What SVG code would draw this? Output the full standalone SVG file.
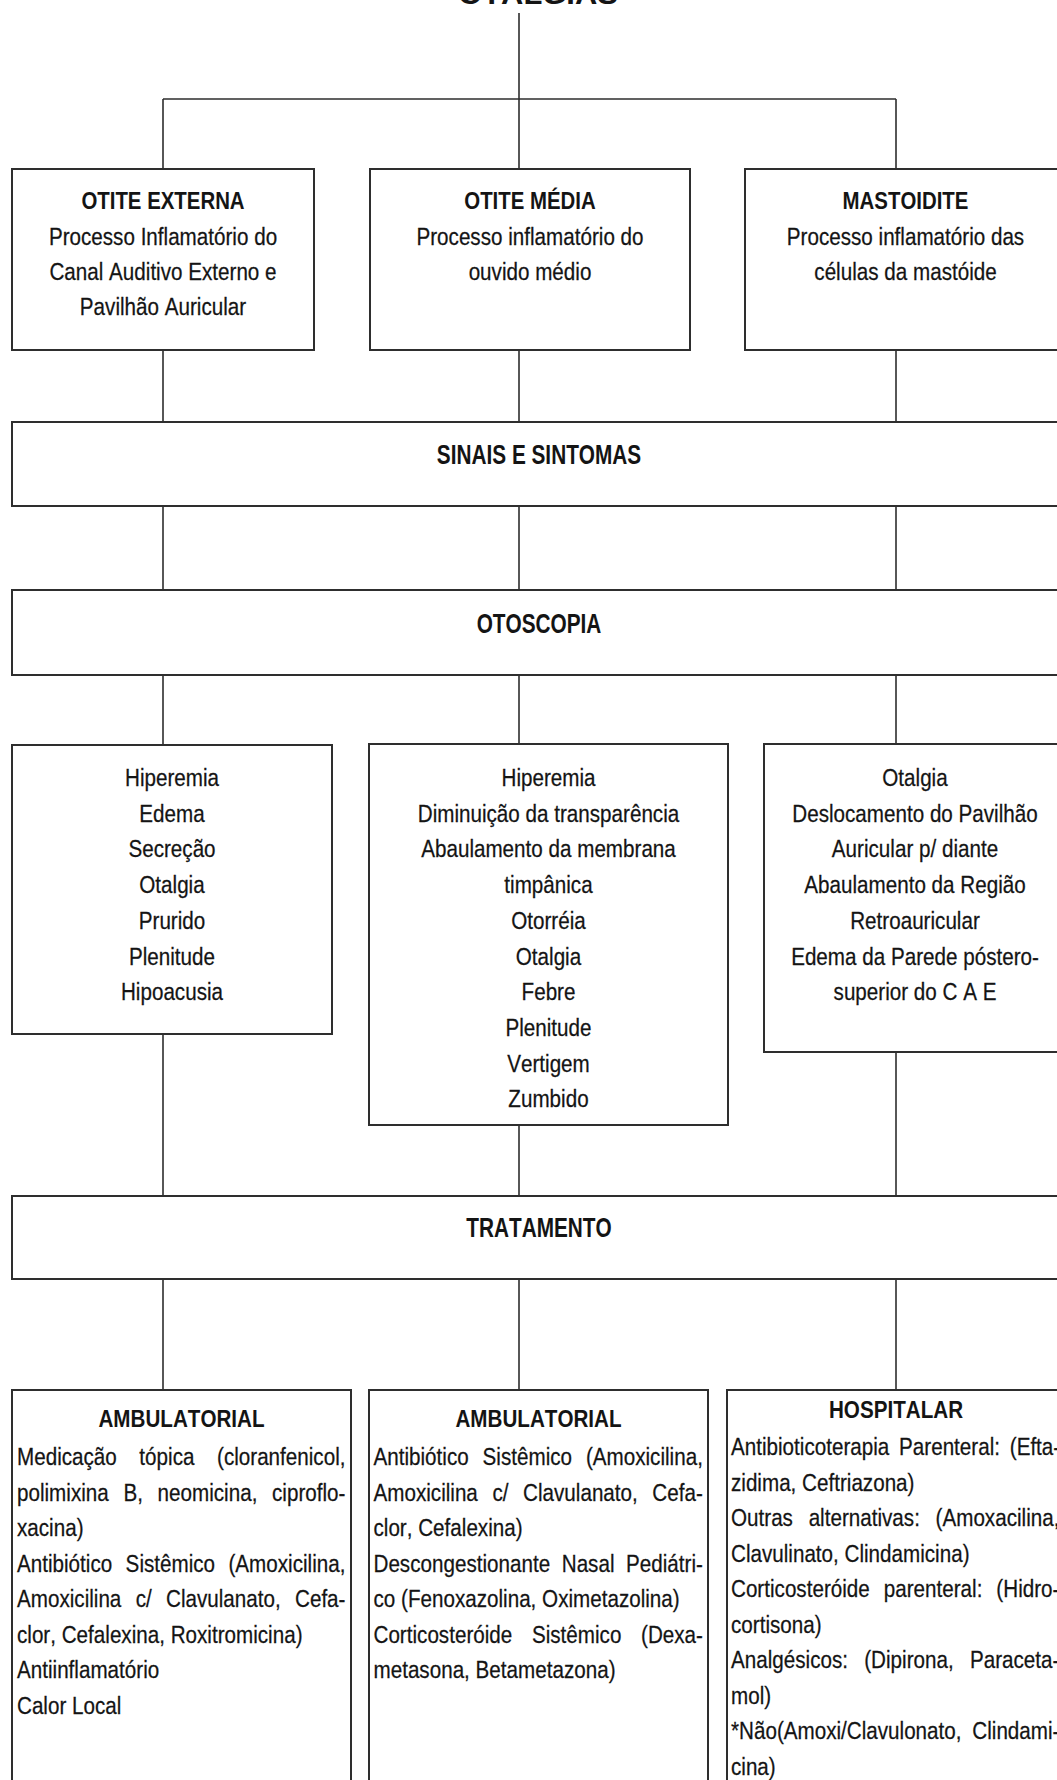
<svg xmlns="http://www.w3.org/2000/svg" width="1057" height="1780" viewBox="0 0 1057 1780">
  <style>
    text { fill: #141414; font-family: "Liberation Sans", Arial, sans-serif; font-kerning: none; }
    .r { font-size: 24px; stroke: #141414; stroke-width: 0.25; }
    .b { font-size: 24px; font-weight: bold; }
    .h { font-size: 27px; font-weight: bold; }
    .t { font-size: 30px; font-weight: bold; }
    .c { text-anchor: middle; }
    .box { fill: #fff; stroke: #2e2e2e; stroke-width: 2; }
    .ln { fill: none; stroke: #2e2e2e; stroke-width: 1.6; }
  </style>
  <rect width="1057" height="1780" fill="#fff"/>

  <!-- title, partly above the page edge -->
  <text id="title" class="t c" transform="translate(538 4) scale(1.03 1)">OTALGIAS</text>

  <!-- connectors -->
  <g id="connectors" class="ln">
    <path d="M519 13V169 M163 99H896 M163 99V169 M896 99V169"/>
    <path d="M163 350V422 M519 350V422 M896 350V422"/>
    <path d="M163 506V590 M519 506V590 M896 506V590"/>
    <path d="M163 675V745 M519 675V744 M896 675V744"/>
    <path d="M163 1034V1196 M519 1125V1196 M896 1052V1196"/>
    <path d="M163 1279V1390 M519 1279V1390 M896 1279V1390"/>
  </g>

  <!-- row 1: diagnoses -->
  <g id="otite-externa">
    <rect class="box" x="12" y="169" width="302" height="181"/>
    <text class="b c" transform="translate(163 209) scale(.85 1)">OTITE EXTERNA</text>
    <text class="r c" transform="translate(163 245) scale(.86 1)">Processo Inflamatório do</text>
    <text class="r c" transform="translate(163 280) scale(.86 1)">Canal Auditivo Externo e</text>
    <text class="r c" transform="translate(163 315) scale(.86 1)">Pavilhão Auricular</text>
  </g>
  <g id="otite-media">
    <rect class="box" x="370" y="169" width="320" height="181"/>
    <text class="b c" transform="translate(530 209) scale(.85 1)">OTITE MÉDIA</text>
    <text class="r c" transform="translate(530 245) scale(.86 1)">Processo inflamatório do</text>
    <text class="r c" transform="translate(530 280) scale(.86 1)">ouvido médio</text>
  </g>
  <g id="mastoidite">
    <rect class="box" x="745" y="169" width="321" height="181"/>
    <text class="b c" transform="translate(905.5 209) scale(.85 1)">MASTOIDITE</text>
    <text class="r c" transform="translate(905.5 245) scale(.86 1)">Processo inflamatório das</text>
    <text class="r c" transform="translate(905.5 280) scale(.86 1)">células da mastóide</text>
  </g>

  <!-- banners -->
  <g id="sinais-sintomas">
    <rect class="box" x="12" y="422" width="1060" height="84"/>
    <text class="h c" transform="translate(539 464) scale(.77 1)">SINAIS E SINTOMAS</text>
  </g>
  <g id="otoscopia">
    <rect class="box" x="12" y="590" width="1060" height="85"/>
    <text class="h c" transform="translate(539 632.5) scale(.77 1)">OTOSCOPIA</text>
  </g>

  <!-- row 3: otoscopic findings -->
  <g id="achados-externa">
    <rect class="box" x="12" y="745" width="320" height="289"/>
    <text class="r c" transform="translate(172 786) scale(.86 1)">Hiperemia</text>
    <text class="r c" transform="translate(172 821.7) scale(.86 1)">Edema</text>
    <text class="r c" transform="translate(172 857.4) scale(.86 1)">Secreção</text>
    <text class="r c" transform="translate(172 893.1) scale(.86 1)">Otalgia</text>
    <text class="r c" transform="translate(172 928.8) scale(.86 1)">Prurido</text>
    <text class="r c" transform="translate(172 964.5) scale(.86 1)">Plenitude</text>
    <text class="r c" transform="translate(172 1000.2) scale(.86 1)">Hipoacusia</text>
  </g>
  <g id="achados-media">
    <rect class="box" x="369" y="744" width="359" height="381"/>
    <text class="r c" transform="translate(548.5 786) scale(.86 1)">Hiperemia</text>
    <text class="r c" transform="translate(548.5 821.7) scale(.86 1)">Diminuição da transparência</text>
    <text class="r c" transform="translate(548.5 857.4) scale(.86 1)">Abaulamento da membrana</text>
    <text class="r c" transform="translate(548.5 893.1) scale(.86 1)">timpânica</text>
    <text class="r c" transform="translate(548.5 928.8) scale(.86 1)">Otorréia</text>
    <text class="r c" transform="translate(548.5 964.5) scale(.86 1)">Otalgia</text>
    <text class="r c" transform="translate(548.5 1000.2) scale(.86 1)">Febre</text>
    <text class="r c" transform="translate(548.5 1035.9) scale(.86 1)">Plenitude</text>
    <text class="r c" transform="translate(548.5 1071.6) scale(.86 1)">Vertigem</text>
    <text class="r c" transform="translate(548.5 1107.3) scale(.86 1)">Zumbido</text>
  </g>
  <g id="achados-mastoidite">
    <rect class="box" x="764" y="744" width="308" height="308"/>
    <text class="r c" transform="translate(915 786) scale(.86 1)">Otalgia</text>
    <text class="r c" transform="translate(915 821.7) scale(.86 1)">Deslocamento do Pavilhão</text>
    <text class="r c" transform="translate(915 857.4) scale(.86 1)">Auricular p/ diante</text>
    <text class="r c" transform="translate(915 893.1) scale(.86 1)">Abaulamento da Região</text>
    <text class="r c" transform="translate(915 928.8) scale(.86 1)">Retroauricular</text>
    <text class="r c" transform="translate(915 964.5) scale(.86 1)">Edema da Parede póstero-</text>
    <text class="r c" transform="translate(915 1000.2) scale(.86 1)">superior do C A E</text>
  </g>

  <g id="tratamento">
    <rect class="box" x="12" y="1196" width="1060" height="83"/>
    <text class="h c" transform="translate(539 1236.5) scale(.77 1)">TRATAMENTO</text>
  </g>

  <!-- row 4: treatment (justified paragraphs) -->
  <g id="ambulatorial-externa">
    <rect class="box" x="12" y="1390" width="339" height="420"/>
    <text class="b c" transform="translate(181.5 1427) scale(.86 1)">AMBULATORIAL</text>
    <text class="r" transform="translate(17 1465) scale(.86 1)" word-spacing="19.6">Medicação tópica (cloranfenicol,</text>
    <text class="r" transform="translate(17 1500.5) scale(.86 1)" word-spacing="10.4">polimixina B, neomicina, ciproflo-</text>
    <text class="r" transform="translate(17 1536) scale(.86 1)">xacina)</text>
    <text class="r" transform="translate(17 1571.5) scale(.86 1)" word-spacing="8.95">Antibiótico Sistêmico (Amoxicilina,</text>
    <text class="r" transform="translate(17 1607) scale(.86 1)" word-spacing="9.97">Amoxicilina c/ Clavulanato, Cefa-</text>
    <text class="r" transform="translate(17 1642.5) scale(.86 1)">clor, Cefalexina, Roxitromicina)</text>
    <text class="r" transform="translate(17 1678) scale(.86 1)">Antiinflamatório</text>
    <text class="r" transform="translate(17 1713.5) scale(.86 1)">Calor Local</text>
  </g>
  <g id="ambulatorial-media">
    <rect class="box" x="369" y="1390" width="339" height="420"/>
    <text class="b c" transform="translate(538.5 1427) scale(.86 1)">AMBULATORIAL</text>
    <text class="r" transform="translate(373.5 1465) scale(.86 1)" word-spacing="9.5">Antibiótico Sistêmico (Amoxicilina,</text>
    <text class="r" transform="translate(373.5 1500.5) scale(.86 1)" word-spacing="10.3">Amoxicilina c/ Clavulanato, Cefa-</text>
    <text class="r" transform="translate(373.5 1536) scale(.86 1)">clor, Cefalexina)</text>
    <text class="r" transform="translate(373.5 1571.5) scale(.86 1)" word-spacing="6.8">Descongestionante Nasal Pediátri-</text>
    <text class="r" transform="translate(373.5 1607) scale(.86 1)">co (Fenoxazolina, Oximetazolina)</text>
    <text class="r" transform="translate(373.5 1642.5) scale(.86 1)" word-spacing="16.2">Corticosteróide Sistêmico (Dexa-</text>
    <text class="r" transform="translate(373.5 1678) scale(.86 1)">metasona, Betametazona)</text>
  </g>
  <g id="hospitalar">
    <rect class="box" x="727" y="1390" width="345" height="420"/>
    <text class="b c" transform="translate(896 1418) scale(.86 1)">HOSPITALAR</text>
    <text class="r" transform="translate(731 1455) scale(.86 1)" word-spacing="4.7">Antibioticoterapia Parenteral: (Efta-</text>
    <text class="r" transform="translate(731 1490.5) scale(.86 1)">zidima, Ceftriazona)</text>
    <text class="r" transform="translate(731 1526) scale(.86 1)" word-spacing="11.6">Outras alternativas: (Amoxacilina,</text>
    <text class="r" transform="translate(731 1561.5) scale(.86 1)">Clavulinato, Clindamicina)</text>
    <text class="r" transform="translate(731 1597) scale(.86 1)" word-spacing="9.6">Corticosteróide parenteral: (Hidro-</text>
    <text class="r" transform="translate(731 1632.5) scale(.86 1)">cortisona)</text>
    <text class="r" transform="translate(731 1668) scale(.86 1)" word-spacing="12.25">Analgésicos: (Dipirona, Paraceta-</text>
    <text class="r" transform="translate(731 1703.5) scale(.86 1)">mol)</text>
    <text class="r" transform="translate(731 1739) scale(.86 1)" word-spacing="5.9">*Não(Amoxi/Clavulonato, Clindami-</text>
    <text class="r" transform="translate(731 1774.5) scale(.86 1)">cina)</text>
  </g>
</svg>
